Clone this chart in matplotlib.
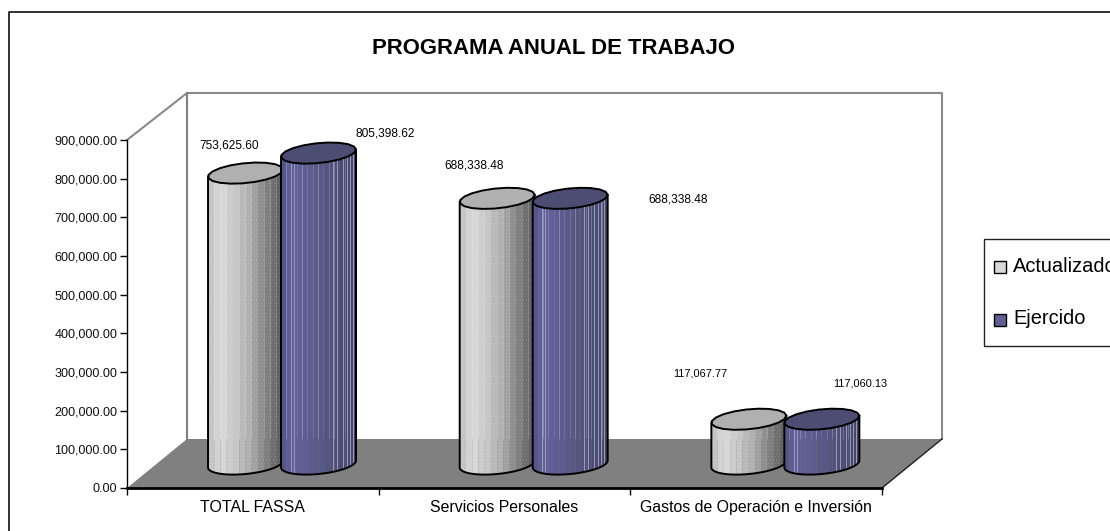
import numpy as np
import matplotlib
matplotlib.use("Agg")
import matplotlib.pyplot as plt
from matplotlib.colors import to_rgb
from matplotlib.lines import Line2D
from matplotlib.patches import Rectangle

plt.rcParams['font.family'] = ['Liberation Sans', 'DejaVu Sans']
plt.rcParams['hatch.linewidth'] = 0.4

categories = ["TOTAL FASSA", "Servicios Personales", "Gastos de Operación e Inversión"]
actualizado = [753625.60, 688338.48, 117067.77]
ejercido = [805398.62, 688338.48, 117060.13]
labels_act = ["753,625.60", "688,338.48", "117,067.77"]
labels_eje = ["805,398.62", "688,338.48", "117,060.13"]
yticks = [0, 100000, 200000, 300000, 400000, 500000, 600000, 700000, 800000, 900000]

W, H = 1110, 531
fig = plt.figure(figsize=(W / 100, H / 100), dpi=100, facecolor="white")
# plot box in pixels, y from the top like the picture
L, R, T, B = 127, 882, 140, 488
ax = fig.add_axes([L / W, 1 - B / H, (R - L) / W, (B - T) / H])
ax.set_xlim(-0.5, 2.5)
ax.set_ylim(0, 900000)
ax.patch.set_alpha(0)

DX, DY = 60, 49


def fx(x):
    return x / W


def fy(y):
    return 1 - y / H


def lighter(col, a):
    r = np.array(to_rgb(col))
    return tuple(r + (1 - r) * a)


# outer frame, only left and top are in the crop
fig.add_artist(Line2D([fx(8.5), fx(8.5), 1], [0, fy(11.5), fy(11.5)], color="#222222", lw=1.3))

# walls and floor
p0, p1 = ax.transData.transform([(-0.5, 0), (2.5, 0)])
q0, q1 = ax.transData.transform([(-0.5, 900000), (2.5, 900000)])
ax.fill([p0[0], p1[0], p1[0] + DX, p0[0] + DX], [p0[1], p1[1], p1[1] + DY, p0[1] + DY],
        transform=None, color="#808080", lw=0, clip_on=False, zorder=2)
ax.plot([p1[0], p1[0] + DX], [p1[1], p1[1] + DY], transform=None, color="#202020", lw=1, clip_on=False, zorder=2)
ax.plot([q0[0], q0[0] + DX, q1[0] + DX, q1[0] + DX], [q0[1], q0[1] + DY - 2, q1[1] + DY - 2, p1[1] + DY],
        transform=None, color="#8a8a8a", lw=1.5, clip_on=False, zorder=1)
ax.plot([q0[0] + DX, p0[0] + DX], [q0[1] + DY - 2, p0[1] + DY], transform=None, color="#808080", lw=1.5, clip_on=False, zorder=1)


def outline(cx, cy, rx, ry, tilt, t):
    x = cx + rx * np.cos(t)
    y = cy + ry * np.sin(t) + tilt * np.cos(t)
    return x, y


def cylinder(cat, side, value, shades, dots, top, z, streaks=()):
    # one cylinder, all sizes in pixels from the data position
    rx = 37.5
    ry = 10
    tilt = 3.5
    c = ax.transData.transform((cat, 0)) + np.array([DX * 0.5, DY * 0.5 - 0.5])
    cx = c[0] + side * 36.5 - 0.8
    y_bot = c[1]
    y_top = ax.transData.transform((cat, value))[1] + DY * 0.5 - 1
    n = len(shades)
    # bands are even in x, not in angle, the dark side gets the same width
    xs = np.linspace(-rx, rx, n + 1)
    for i in range(n):
        u = np.linspace(xs[i], xs[i + 1], 5)
        t = 2 * np.pi - np.arccos(np.clip(u / rx, -1, 1))
        xb, yb = outline(cx, y_bot, rx, ry, tilt, t)
        xt, yt = outline(cx, y_top, rx, ry, tilt, t)
        ax.fill(np.r_[xb, xt[::-1]], np.r_[yb, yt[::-1]], transform=None, fc=shades[i],
                ec=lighter(shades[i], 0.18) if dots else shades[i], hatch="....." if dots else None,
                lw=0, clip_on=False, zorder=z)
    for s in streaks:
        t = 2 * np.pi - np.arccos(np.clip(s / rx, -1, 1))
        xb, yb = outline(cx, y_bot, rx, ry, tilt, t)
        xt, yt = outline(cx, y_top, rx, ry, tilt, t)
        ax.plot([xb, xt], [yb, yt], transform=None, color="#9a9ac4", lw=0.7, clip_on=False, zorder=z)
    t = np.linspace(np.pi, 2 * np.pi, 40)
    xb, yb = outline(cx, y_bot, rx, ry, tilt, t)
    ax.plot(np.r_[cx - rx, xb, cx + rx], np.r_[y_top - tilt, yb, y_top + tilt], transform=None,
            color="black", lw=1.4, clip_on=False, zorder=z)
    t = np.linspace(0, 2 * np.pi, 20)
    xt, yt = outline(cx, y_top, rx, ry, tilt, t)
    ax.fill(xt, yt, transform=None, fc=top, ec="black", lw=1.4, clip_on=False, zorder=z)


gray_shades = ["#c4c4c4", "#d2d2d2", "#d6d6d6", "#cccccc", "#c6c6c6", "#b8b8b8", "#b0b0b0",
               "#a0a0a0", "#8e8e8e", "#7e7e7e", "#6e6e6e", "#606060"]
blue_shades = ["#56568a", "#5e5e94", "#606096", "#606096", "#5e5e92", "#5c5c8e", "#5a5a8a", "#585886",
               "#555580", "#52527a", "#4f4f76", "#4c4c70", "#49496b", "#464666"]
blue_streaks = [-28, -25, 14, 18, 24, 28, 31, 34]

for i in range(3):
    cylinder(i, -1, actualizado[i], gray_shades, True, "#b0b0b0", 3 + i * 2)
    cylinder(i, 1, ejercido[i], blue_shades, False, "#4d4d74", 4 + i * 2, blue_streaks)

# axis
for s in ["top", "right"]:
    ax.spines[s].set_visible(False)
ax.spines["bottom"].set_linewidth(2)
ax.spines["bottom"].set_zorder(20)
ax.spines["left"].set_linewidth(1)
ax.set_yticks(yticks)
ax.set_yticklabels(["%s" % format(v, ",.2f") for v in yticks], fontsize=9.1, color="#111111")
ax.set_xticks([-0.5, 0.5, 1.5, 2.5])
ax.set_xticklabels([])
ax.tick_params(axis="both", length=5, width=1, pad=2)
for i, c in enumerate(categories):
    ax.text(i, -0.057, c, transform=ax.get_xaxis_transform(), ha="center", va="center", fontsize=11.4, clip_on=False)

# data labels
px_label_act = [(229, 145, 8.6), (474, 165, 8.6), (700, 374, 7.9)]
px_label_eje = [(385, 133, 8.6), (678, 200, 8.6), (860, 384, 7.9)]
for (x, y, fs), s in zip(px_label_act, labels_act):
    fig.text(fx(x), fy(y), s, ha="center", va="center", fontsize=fs)
for (x, y, fs), s in zip(px_label_eje, labels_eje):
    fig.text(fx(x), fy(y), s, ha="center", va="center", fontsize=fs)

fig.text(fx(553.5), fy(49), "PROGRAMA ANUAL DE TRABAJO", ha="center", va="center", fontsize=15.9, fontweight="bold")

# legend, runs off the right edge like the original
fig.add_artist(Rectangle((fx(984), fy(346)), 140 / W, 107 / H, transform=fig.transFigure, fc="white", ec="#222222", lw=1))
fig.add_artist(Rectangle((fx(994), fy(273)), 12 / W, 12 / H, transform=fig.transFigure, fc="#d8d8d8", ec="black", lw=1))
fig.add_artist(Rectangle((fx(994), fy(326)), 12 / W, 12 / H, transform=fig.transFigure, fc="#5f5f95", ec="black", lw=1))
fig.text(fx(1013), fy(266), "Actualizado", va="center", fontsize=14.4)
fig.text(fx(1013), fy(319), "Ejercido", va="center", fontsize=14.4)

fig.savefig("out.png", dpi=100)
